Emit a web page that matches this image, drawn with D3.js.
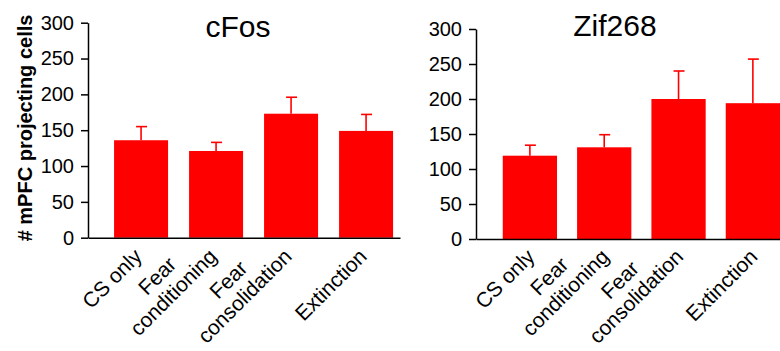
<!DOCTYPE html>
<html>
<head>
<meta charset="utf-8">
<script src="https://cdn.jsdelivr.net/npm/d3@7"></script>
<style>
  body { margin: 0; background: #fff; }
  text { font-family: Arial, "Liberation Sans", sans-serif; }
</style>
</head>
<body>
<div id="chart"></div>
<script>
// data
const categories = ["CS only", "Fear\nconditioning", "Fear\nconsolidation", "Extinction"];
const yTicks = [0, 50, 100, 150, 200, 250, 300];
const cfosMean = [136, 121, 173, 149];
const cfosErr = [19, 12, 23, 23];
const zifMean = [119, 131, 200, 194];
const zifErr = [15, 18, 40, 63];

const W = 780, H = 351;
const RED = "#ff0000";

const svg = d3.select("#chart").append("svg")
    .attr("width", W)
    .attr("height", H);

const panels = [
  { title: "cFos", mean: cfosMean, err: cfosErr,
    xRange: [88, 400], yRange: [237.7, 22.7], padIn: 0.28, padOut: 0.22, align: 0.79,
    titleX: 238, titleY: 37, labelDx: 2, labelDy: 20 },
  { title: "Zif268", mean: zifMean, err: zifErr,
    xRange: [476, 780], yRange: [239, 29], padIn: 0.27, padOut: 0.18, align: 1,
    titleX: 615, titleY: 36, labelDx: 6, labelDy: 19 }
];

panels.forEach(p => {
  const g = svg.append("g");
  const data = categories.map((c, i) => ({ cat: c, mean: p.mean[i], err: p.err[i] }));

  const x = d3.scaleBand()
      .domain(categories)
      .range(p.xRange)
      .paddingInner(p.padIn)
      .paddingOuter(p.padOut)
      .align(p.align);

  const y = d3.scaleLinear()
      .domain([0, 300])
      .range(p.yRange);

  // bars
  g.selectAll("rect.bar")
    .data(data)
    .enter().append("rect")
      .attr("class", "bar")
      .attr("x", d => x(d.cat))
      .attr("y", d => y(d.mean))
      .attr("width", x.bandwidth())
      .attr("height", d => y(0) - y(d.mean))
      .attr("fill", RED);

  // error bars (upper only)
  const eb = g.selectAll("g.err")
    .data(data)
    .enter().append("g")
      .attr("class", "err")
      .attr("stroke", RED)
      .attr("stroke-width", 1.6);
  eb.append("line")
      .attr("x1", d => x(d.cat) + x.bandwidth() / 2)
      .attr("x2", d => x(d.cat) + x.bandwidth() / 2)
      .attr("y1", d => y(d.mean))
      .attr("y2", d => y(d.mean + d.err));
  eb.append("line")
      .attr("x1", d => x(d.cat) + x.bandwidth() / 2 - 5)
      .attr("x2", d => x(d.cat) + x.bandwidth() / 2 + 6)
      .attr("y1", d => y(d.mean + d.err))
      .attr("y2", d => y(d.mean + d.err));

  // axes
  const yAxis = g.append("g")
      .attr("transform", `translate(${p.xRange[0]},0)`)
      .call(d3.axisLeft(y).tickValues(yTicks).tickSize(7).tickSizeOuter(0).tickPadding(7));
  yAxis.selectAll("text")
      .attr("font-size", 20)
      .attr("fill", "#000")
      .attr("font-family", "Arial, 'Liberation Sans', sans-serif");
  yAxis.selectAll("path, line").attr("stroke", "#000").attr("stroke-width", 1.5);

  const xAxis = g.append("g")
      .attr("transform", `translate(0,${y(0)})`)
      .call(d3.axisBottom(x).tickSize(0).tickSizeOuter(0).tickFormat(""));
  xAxis.select(".domain").attr("stroke", "#000").attr("stroke-width", 1.5);

  // category labels, rotated -45, lines centred on each other
  const lineH = 23;
  data.forEach(d => {
    const lines = d.cat.split("\n");
    const cx = x(d.cat) + x.bandwidth() / 2 + p.labelDx;
    const cy = y(0) + p.labelDy;
    const t = g.append("text")
        .attr("transform", `translate(${cx},${cy}) rotate(-45)`)
        .attr("font-size", 21)
        .attr("text-anchor", "middle");
    const spans = lines.map((s, i) => t.append("tspan")
        .attr("x", 0)
        .attr("y", (i - (lines.length - 1)) * lineH)
        .text(s));
    const maxW = d3.max(spans, s => s.node().getComputedTextLength());
    spans.forEach(s => s.attr("x", -maxW / 2));
  });

  // title
  g.append("text")
      .attr("x", p.titleX)
      .attr("y", p.titleY)
      .attr("text-anchor", "middle")
      .attr("font-size", 30)
      .text(p.title);
});

// y axis label (left panel only)
svg.append("text")
    .attr("transform", "translate(32,128) rotate(-90)")
    .attr("text-anchor", "middle")
    .attr("font-size", 20)
    .attr("font-weight", "bold")
    .text("# mPFC projecting cells");
</script>
</body>
</html>
